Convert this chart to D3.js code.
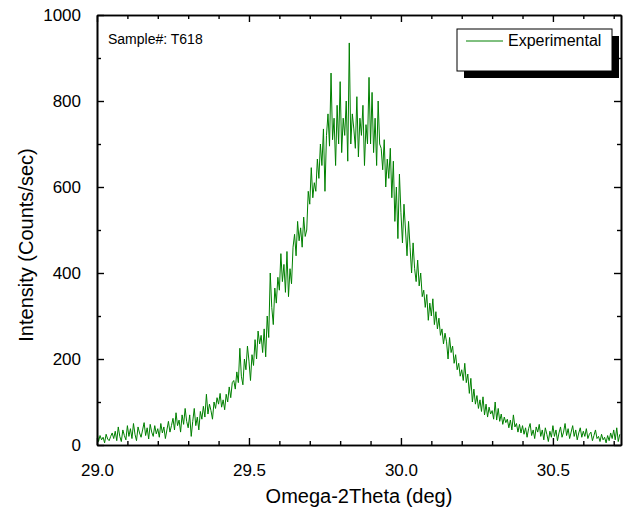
<!DOCTYPE html>
<html>
<head>
<meta charset="utf-8">
<script src="https://cdn.jsdelivr.net/npm/d3@7"></script>
<style>
  html, body { margin: 0; padding: 0; background: #fff; }
  svg { display: block; font-family: Arial, "Liberation Sans", sans-serif; }
</style>
</head>
<body>
<svg id="chart" width="623" height="512"></svg>
<script>
// ---- data ----
const scanStart = 29.0;
const scanStep = 0.005;
const intensity = [
  30, 8, 22, 12, 18, 5, 25, 14, 10, 20,
  28, 15, 32, 10, 42, 20, 8, 35, 22, 12,
  45, 20, 38, 15, 50, 25, 10, 42, 28, 18,
  35, 52, 22, 40, 14, 48, 30, 20, 45, 26,
  38, 18, 50, 28, 42, 15, 35, 55, 30, 45,
  62, 35, 75, 45, 58, 30, 70, 48, 85, 55,
  40, 70, 20, 55, 85, 45, 65, 35, 78, 60,
  90, 65, 118, 72, 95, 80, 60, 100, 85, 110,
  95, 120, 88, 105, 82, 118, 100, 135, 110, 145,
  150, 130, 170, 145, 225, 160, 140, 200, 175, 230,
  195, 150, 210, 185, 245, 200, 265, 235, 255, 215,
  270, 205, 300, 250, 400, 320, 280, 365, 330, 390,
  360, 445, 380, 420, 355, 450, 345, 410, 375, 460,
  490, 440, 520, 475, 505, 460, 530, 485, 500, 590,
  560, 645, 575, 610, 590, 665, 620, 700, 650, 735,
  590, 720, 770, 695, 865, 710, 760, 650, 790, 700,
  845, 680, 760, 720, 800, 660, 935, 700, 770, 735,
  690, 810, 670, 760, 720, 790, 650, 745, 700, 855,
  700, 820, 680, 760, 650, 800, 700, 690, 640, 710,
  600, 665, 620, 690, 575, 660, 520, 600, 480, 630,
  540, 470, 560, 500, 440, 520, 460, 400, 470, 410,
  380, 430, 370, 400, 345, 360, 320, 350, 290, 330,
  300, 340, 280, 310, 270, 295, 255, 270, 235, 260,
  240, 200, 250, 215, 230, 190, 210, 175, 190, 160,
  175, 150, 190, 145, 165, 120, 155, 100, 130, 95,
  115, 85, 105, 78, 112, 70, 95, 65, 88, 72,
  80, 60, 100, 58, 85, 55, 72, 48, 65, 52,
  60, 40, 58, 35, 70, 42, 50, 30, 48, 28,
  45, 25, 40, 18, 38, 50, 22, 35, 15, 42,
  30, 48, 20, 35, 12, 40, 25, 8, 32, 18,
  45, 20, 35, 10, 28, 42, 18, 30, 50, 22,
  38, 15, 30, 45, 20, 35, 12, 28, 40, 18,
  32, 20, 38, 15, 25, 30, 10, 22, 35, 15,
  20, 8, 25, 12, 18, 5, 22, 10, 28, 15,
  35, 12, 40, 8, 25
];
const xDomain = [29.0, 30.724];
const yDomain = [0, 1000];
const xMajorTicks = [29.0, 29.5, 30.0, 30.5];
const xMinorTicks = [29.1, 29.2, 29.3, 29.4, 29.6, 29.7, 29.8, 29.9, 30.1, 30.2, 30.3, 30.4, 30.6, 30.7];
const yMajorTicks = [0, 200, 400, 600, 800, 1000];
const yMinorTicks = [100, 300, 500, 700, 900];
const xTitle = "Omega-2Theta (deg)";
const yTitle = "Intensity (Counts/sec)";
const sampleLabel = "Sample#: T618";
const seriesName = "Experimental";

(function () {
  // ---- layout ----
  const L = 97, R = 621, T = 15, B = 445;
  const svg = d3.select("#chart");
  const x = d3.scaleLinear().domain(xDomain).range([L, R]);
  const y = d3.scaleLinear().domain(yDomain).range([B, T]);
  const points = intensity.map((v, i) => [scanStart + i * scanStep, v]);

  svg.append("defs").append("clipPath").attr("id", "clip")
    .append("rect").attr("x", L).attr("y", T).attr("width", R - L).attr("height", B - T);

  // data line
  svg.append("path")
    .datum(points)
    .attr("clip-path", "url(#clip)")
    .attr("fill", "none")
    .attr("stroke", "#008000")
    .attr("stroke-width", 1)
    .attr("stroke-linejoin", "round")
    .attr("d", d3.line().x(d => x(d[0])).y(d => y(d[1])));

  const majorLen = 7, minorLen = 4;
  const fmtX = d3.format(".1f");

  const gBottom = svg.append("g").attr("transform", `translate(0,${B})`)
    .call(d3.axisBottom(x).tickValues(xMajorTicks).tickSize(-majorLen).tickSizeOuter(0).tickPadding(majorLen + 12).tickFormat(fmtX));
  const gBottomMinor = svg.append("g").attr("transform", `translate(0,${B})`)
    .call(d3.axisBottom(x).tickValues(xMinorTicks).tickSize(-minorLen).tickSizeOuter(0).tickFormat(""));
  const gTop = svg.append("g").attr("transform", `translate(0,${T})`)
    .call(d3.axisTop(x).tickValues(xMajorTicks).tickSize(-majorLen).tickSizeOuter(0).tickFormat(""));
  const gTopMinor = svg.append("g").attr("transform", `translate(0,${T})`)
    .call(d3.axisTop(x).tickValues(xMinorTicks).tickSize(-minorLen).tickSizeOuter(0).tickFormat(""));
  const gLeft = svg.append("g").attr("transform", `translate(${L},0)`)
    .call(d3.axisLeft(y).tickValues(yMajorTicks).tickSize(-majorLen).tickSizeOuter(0).tickPadding(majorLen + 9).tickFormat(d3.format("d")));
  const gLeftMinor = svg.append("g").attr("transform", `translate(${L},0)`)
    .call(d3.axisLeft(y).tickValues(yMinorTicks).tickSize(-minorLen).tickSizeOuter(0).tickFormat(""));
  const gRight = svg.append("g").attr("transform", `translate(${R},0)`)
    .call(d3.axisRight(y).tickValues(yMajorTicks).tickSize(-majorLen).tickSizeOuter(0).tickFormat(""));
  const gRightMinor = svg.append("g").attr("transform", `translate(${R},0)`)
    .call(d3.axisRight(y).tickValues(yMinorTicks).tickSize(-minorLen).tickSizeOuter(0).tickFormat(""));

  [gBottom, gBottomMinor, gTop, gTopMinor, gLeft, gLeftMinor, gRight, gRightMinor].forEach(g => {
    g.select(".domain").attr("stroke", "#000").attr("stroke-width", 1.6);
    g.selectAll(".tick line").attr("stroke", "#000").attr("stroke-width", 1.4);
    g.selectAll(".tick text").attr("fill", "#000").style("font-size", "17px")
      .style("font-family", "Arial, 'Liberation Sans', sans-serif");
  });

  // axis titles
  svg.append("text")
    .attr("x", (L + R) / 2).attr("y", 503)
    .attr("text-anchor", "middle")
    .style("font-size", "20px")
    .text(xTitle);
  svg.append("text")
    .attr("transform", `translate(33,245) rotate(-90)`)
    .attr("text-anchor", "middle")
    .style("font-size", "20px")
    .text(yTitle);

  // sample label
  svg.append("text")
    .attr("x", 108).attr("y", 44)
    .style("font-size", "14px")
    .text(sampleLabel);

  // legend with shadow
  const lg = svg.append("g");
  lg.append("rect").attr("x", 464).attr("y", 36).attr("width", 155).attr("height", 42).attr("fill", "#000");
  lg.append("rect").attr("x", 457).attr("y", 29).attr("width", 155).attr("height", 42)
    .attr("fill", "#fff").attr("stroke", "#000").attr("stroke-width", 1);
  lg.append("line").attr("x1", 466).attr("x2", 503).attr("y1", 41).attr("y2", 41)
    .attr("stroke", "#008000").attr("stroke-width", 1);
  lg.append("text").attr("x", 508).attr("y", 46)
    .style("font-size", "16px")
    .text(seriesName);
})();
</script>
</body>
</html>
